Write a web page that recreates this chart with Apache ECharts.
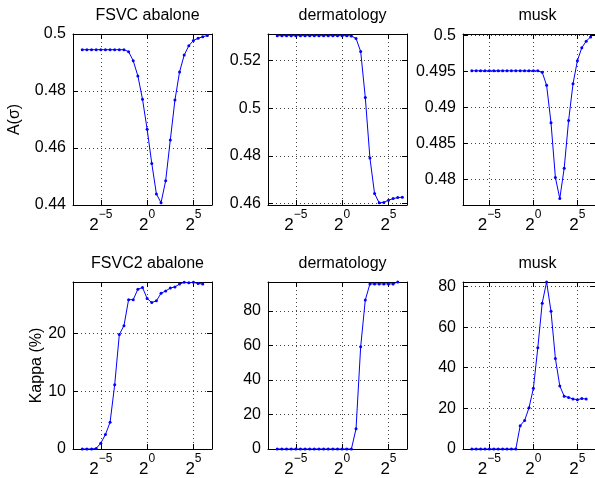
<!DOCTYPE html>
<html><head><meta charset="utf-8">
<script src="https://cdn.jsdelivr.net/npm/echarts@6/dist/echarts.min.js"></script>
<style>html,body{margin:0;padding:0;background:#fff}#c{width:595px;height:478px}</style>
</head><body><div id="c"></div>
<script>
// log2(sigma) positions
const sigmaExpTop = [-7,-6.5,-6,-5.5,-5,-4.5,-4,-3.5,-3,-2.5,-2,-1.5,-1,-0.5,0,0.5,1,1.5,2,2.5,3,3.5,4,4.5,5,5.5,6,6.5];
const sigmaExpBottom = [-7,-6.5,-6,-5.5,-5,-4.5,-4,-3.5,-3,-2.5,-2,-1.5,-1,-0.5,0,0.5,1,1.5,2,2.5,3,3.5,4,4.5,5,5.5,6];
const xTickExps = [-5, 0, 5];

const titles = ['FSVC abalone', 'dermatology', 'musk', 'FSVC2 abalone', 'dermatology', 'musk'];
const yNames = ['A(σ)', '', '', 'Kappa (%)', '', ''];

const abaloneA = [0.4945,0.4945,0.4945,0.4945,0.4945,0.4945,0.4945,0.4945,0.4945,0.4945,0.4938,0.4906,0.4853,0.4771,0.4666,0.4546,0.4439,0.4408,0.4485,0.4628,0.4768,0.4867,0.4926,0.4959,0.4977,0.4985,0.4990,0.4995];
const dermatologyA = [0.5305,0.5305,0.5305,0.5305,0.5305,0.5305,0.5305,0.5305,0.5305,0.5305,0.5305,0.5305,0.5305,0.5305,0.5305,0.5305,0.5304,0.5293,0.5239,0.5045,0.4791,0.4642,0.4603,0.4605,0.4614,0.4621,0.4625,0.4627];
const muskA = [0.4951,0.4951,0.4951,0.4951,0.4951,0.4951,0.4951,0.4951,0.4951,0.4951,0.4951,0.4951,0.4951,0.4951,0.4951,0.4951,0.4949,0.4931,0.4879,0.4803,0.4774,0.4816,0.4882,0.4933,0.4965,0.4983,0.4992,0.4998];

const abaloneKappa = [0,0,0,0.1,1.0,2.5,4.6,11.1,19.8,21.3,25.8,25.8,27.6,27.9,26.0,25.3,25.6,26.9,27.3,27.8,28.0,28.5,28.8,28.7,28.8,28.6,28.5];
const dermatologyKappa = [0,0,0,0,0,0,0,0,0,0,0,0,0,0,0,0,0,11.7,59.2,86.3,95.6,95.6,95.6,95.6,95.6,95.6,96.7];
const muskKappa = [0,0,0,0,0,0,0,0,0,0,0,11.5,14.0,20.3,29.9,49.8,71.8,82.2,67.8,44.5,31.0,26.0,25.4,24.6,24.3,24.8,24.6];

const yTicks = [[0.44,0.46,0.48,0.5],[0.46,0.48,0.5,0.52],[0.48,0.485,0.49,0.495,0.5],[0,10,20],[0,20,40,60,80],[0,20,40,60,80]];
const yMin = [0.44, 0.4594, 0.4765, 0, 0, 0];
const yMax = [0.5, 0.5312, 0.5002, 28.85, 96.7, 82.2];

const seriesValues = [abaloneA, dermatologyA, muskA, abaloneKappa, dermatologyKappa, muskKappa];
const seriesX = [sigmaExpTop, sigmaExpTop, sigmaExpTop, sigmaExpBottom, sigmaExpBottom, sigmaExpBottom];

const FONT = 'Liberation Sans, Arial, Helvetica, sans-serif';
const lefts = [73, 268, 463];
const tops = [34, 282];
const W = 139, H = 171;

const grids = [], xAxes = [], yAxes = [], series = [], titleComps = [];
for (let i = 0; i < 6; i++) {
  const col = i % 3, row = Math.floor(i / 3);
  grids.push({left: lefts[col], top: tops[row], width: W, height: H, show: false});
  titleComps.push({text: titles[i], left: lefts[col] + W / 2, top: tops[row] - 31, textAlign: 'center',
    textStyle: {fontFamily: FONT, fontSize: 16, fontWeight: 'normal', color: '#000'}});
  const lineBlack = {show: true, onZero: false, lineStyle: {color: '#000', width: 1}};
  xAxes.push({
    gridIndex: i, type: 'value', min: -8, max: 7, position: 'bottom',
    axisLine: lineBlack,
    axisTick: {show: true, inside: true, length: 5, customValues: xTickExps, lineStyle: {color: '#000'}},
    axisLabel: {customValues: xTickExps, margin: 4, color: '#000',
      formatter: v => '{b|2}{s|' + (v < 0 ? '\u2212' + (-v) : String(v)) + '}',
      rich: {
        b: {fontFamily: FONT, fontSize: 17, color: '#000', verticalAlign: 'bottom', lineHeight: 25},
        s: {fontFamily: FONT, fontSize: 12, color: '#000', verticalAlign: 'top', lineHeight: 12}
      }},
    splitLine: {show: true, lineStyle: {color: '#444', type: [1, 3], width: 1}}
  });
  xAxes.push({
    gridIndex: i, type: 'value', min: -8, max: 7, position: 'top',
    axisLine: lineBlack,
    axisTick: {show: true, inside: true, length: 5, customValues: xTickExps, lineStyle: {color: '#000'}},
    axisLabel: {show: false}, splitLine: {show: false}
  });
  yAxes.push({
    gridIndex: i, type: 'value', min: yMin[i], max: yMax[i], position: 'left',
    axisLine: lineBlack,
    axisTick: {show: true, inside: true, length: 5, customValues: yTicks[i], lineStyle: {color: '#000'}},
    axisLabel: {customValues: yTicks[i], margin: 7, color: '#000', fontFamily: FONT, fontSize: 16,
      formatter: v => String(v)},
    splitLine: {show: true, lineStyle: {color: '#444', type: [1, 3], width: 1}},
    name: yNames[i], nameLocation: 'middle', nameGap: col === 0 && row === 0 ? 50 : 27, nameRotate: 90,
    nameTextStyle: {fontFamily: FONT, fontSize: 16, color: '#000'}
  });
  yAxes.push({
    gridIndex: i, type: 'value', min: yMin[i], max: yMax[i], position: 'right',
    axisLine: lineBlack,
    axisTick: {show: true, inside: true, length: 5, customValues: yTicks[i], lineStyle: {color: '#000'}},
    axisLabel: {show: false}, splitLine: {show: false}
  });
  const xs = seriesX[i], vs = seriesValues[i];
  series.push({
    type: 'line', xAxisIndex: 2 * i, yAxisIndex: 2 * i,
    data: xs.map((e, k) => [e, vs[k]]),
    symbol: 'circle', symbolSize: 3, showSymbol: true,
    lineStyle: {color: '#0000ff', width: 1}, itemStyle: {color: '#0000ff'},
    animation: false, silent: true
  });
}

const chart = echarts.init(document.getElementById('c'), null, {renderer: 'canvas'});
chart.setOption({
  animation: false, backgroundColor: '#fff',
  title: titleComps, grid: grids, xAxis: xAxes, yAxis: yAxes, series: series
});
</script>
</body></html>
